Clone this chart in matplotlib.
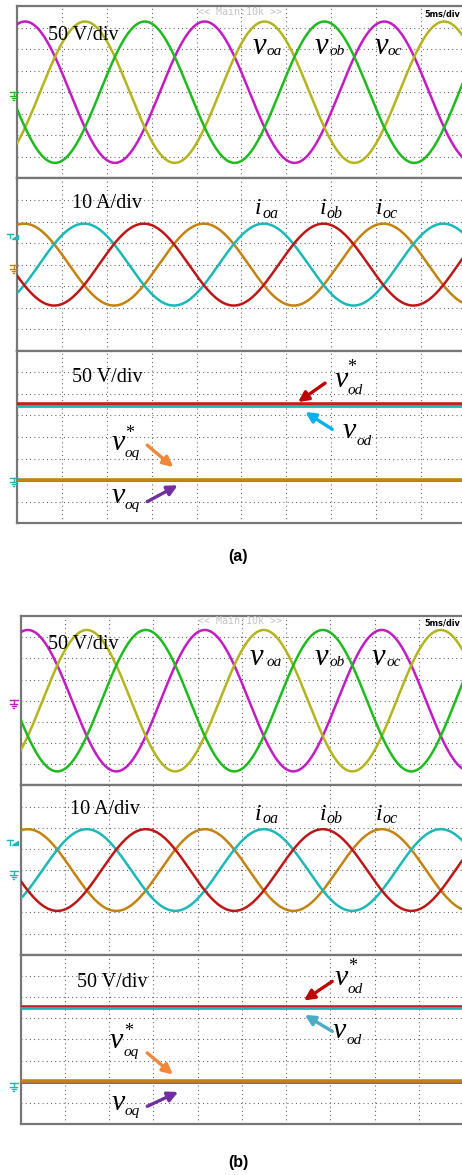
import matplotlib.pyplot as plt
import numpy as np
from matplotlib.lines import Line2D
from matplotlib.patches import Polygon

W, H, DPI = 462, 1175, 100

# scope settings
MS_PER_DIV = 5
N_XDIV, N_YDIV = 10, 8
FREQ_HZ = 50
VOLT_LIM = (-200, 200)     # 50 V/div, ground at centre
CURR_LIM = (-40, 40)       # 10 A/div, ground at centre
DQ_LIM = (-100, 300)       # 50 V/div, ground 2 div above bottom

# peak delay of each trace inside a three-phase set (ms)
PHASE_DELAY_MS = [0.0, 20 / 3, 40 / 3]

# (a)
A_VOLT_PEAK = 164
A_VOLT_T0 = 0.9
A_CURR_PEAK = 19.0
A_CURR_T0 = 0.8
A_DQ = [176, 173, 1, 0]          # v_od*, v_od, v_oq*, v_oq

# (b)
B_VOLT_PEAK = 167
B_VOLT_T0 = 0.8
B_CURR_PEAK = 19.3
B_CURR_T0 = 0.8
B_DQ = [176, 174, 1, 0]

VOLT_COLORS = ["#c21cc2", "#b4b41e", "#1eba1e"]
CURR_COLORS = ["#c4820f", "#1cb8b8", "#bd1717"]
DQ_COLORS = ["#c81e1e", "#1cb8b8", "#c4820f", "#8a3ec0"]

plt.rcParams["font.family"] = ["Liberation Serif", "DejaVu Serif"]

fig = plt.figure(figsize=(W / DPI, H / DPI), dpi=DPI)
fig.patch.set_facecolor("white")


def px(x, y):
    return x / W, 1 - y / H


def scope_axes(left, top, dw, dh, ylims):
    axes = []
    for k, lim in enumerate(ylims):
        y0 = top + k * N_YDIV * dh
        ax = fig.add_axes([left / W, 1 - (y0 + N_YDIV * dh) / H,
                           N_XDIV * dw / W, N_YDIV * dh / H])
        ax.set_xlim(0, N_XDIV * MS_PER_DIV)
        ax.set_ylim(*lim)
        ax.set_xticks(np.arange(0, N_XDIV * MS_PER_DIV + 0.1, MS_PER_DIV))
        ax.set_yticks(np.linspace(lim[0], lim[1], N_YDIV + 1))
        ax.tick_params(length=0, labelbottom=False, labelleft=False)
        ax.grid(True, color="#4a4a4a", linestyle=(0, (0.8, 3.0)), lw=0.8)
        ax.set_axisbelow(True)
        for side, sp in ax.spines.items():
            sp.set_color("#777777")
            sp.set_linewidth(1.6)
        ax.spines["right"].set_visible(False)
        axes.append(ax)
    return axes


def three_phase(ax, peak, t0, colors):
    t = np.linspace(0, N_XDIV * MS_PER_DIV, 2001)
    for delay, c in zip(PHASE_DELAY_MS, colors):
        y = peak * np.cos(2 * np.pi * FREQ_HZ * (t - t0 - delay) / 1000)
        ax.plot(t, y, color=c, lw=1.8, zorder=3)


def dq_lines(ax, levels):
    # red under cyan, purple under orange
    ax.axhline(levels[0], color=DQ_COLORS[0], lw=2.6, zorder=3)
    ax.axhline(levels[1], color=DQ_COLORS[1], lw=2.0, zorder=4)
    ax.axhline(levels[3], color=DQ_COLORS[3], lw=2.0, zorder=3)
    ax.axhline(levels[2], color=DQ_COLORS[2], lw=2.6, zorder=4)


def arrow(ax, head, tail, color):
    ax.annotate("", xy=head, xytext=tail, annotation_clip=False,
                arrowprops=dict(arrowstyle="-|>", color=color, lw=2.4,
                                mutation_scale=15, shrinkA=0, shrinkB=0))


def sym(x, y, main, size, sub, sx, sy, sub_size, star=None):
    kw = dict(style="italic", color="black", ha="left", va="baseline")
    fig.text(*px(x, y), main, fontsize=size, **kw)
    fig.text(*px(sx, sy), sub, fontsize=sub_size, **kw)
    if star:
        fig.text(*px(*star), "*", fontsize=13, ha="center", va="center")


def ground(y, color, x=13.5):
    segs = [((x - 4, y), (x + 4, y)), ((x, y), (x, y + 4)),
            ((x - 3.5, y + 4.3), (x + 3.5, y + 4.3)),
            ((x - 2, y + 6.3), (x + 2, y + 6.3)),
            ((x - 0.8, y + 8.2), (x + 0.8, y + 8.2))]
    for a, b in segs:
        xs, ys = zip(px(*a), px(*b))
        fig.add_artist(Line2D(xs, ys, color=color, lw=1.0))


def trigger(y, color):
    for a, b in [((7.5, y), (13, y)), ((10.25, y), (10.25, y + 5))]:
        xs, ys = zip(px(*a), px(*b))
        fig.add_artist(Line2D(xs, ys, color=color, lw=1.0))
    fig.add_artist(Polygon([px(12, y + 5.5), px(18, y + 5.5), px(18, y + 1.5)],
                           closed=True, color=color, transform=fig.transFigure))


def header(y):
    fig.text(*px(240, y), "<< Main:10k >>", fontsize=7.2, color="#c4c4c4",
             family="DejaVu Sans Mono", ha="center", va="center")
    fig.text(*px(424, y + 2), "5ms/div", fontsize=5.9, color="black",
             family="DejaVu Sans", weight="bold", ha="left", va="center")


def div_text(x, y, s):
    fig.text(*px(x, y), s, fontsize=14.5, ha="left", va="baseline")


# ---------------- panel (a) ----------------
a1, a2, a3 = scope_axes(17, 6, 44.9, 21.55, [VOLT_LIM, CURR_LIM, DQ_LIM])
three_phase(a1, A_VOLT_PEAK, A_VOLT_T0, VOLT_COLORS)
three_phase(a2, A_CURR_PEAK, A_CURR_T0, CURR_COLORS)
dq_lines(a3, A_DQ)
header(12)

div_text(48, 39.5, "50 V/div")
sym(253, 54, "v", 22, "oa", 267, 55, 11)
sym(315, 54, "v", 22, "ob", 330, 55, 11)
sym(375, 54, "v", 22, "oc", 388, 55, 11)

div_text(72, 208.5, "10 A/div")
sym(255, 214.5, "i", 17, "oa", 263, 218.5, 11.5)
sym(320, 214.5, "i", 17, "ob", 327, 218.5, 11.5)
sym(376, 214.5, "i", 17, "oc", 383, 218.5, 11.5)

div_text(72, 382, "50 V/div")
sym(335, 387, "v", 21.5, "od", 348, 394, 11, star=(352, 367))
sym(343, 438.5, "v", 21.5, "od", 357, 445, 11)
sym(112, 450, "v", 21.5, "oq", 125, 457, 11, star=(130, 433))
sym(112, 503.5, "v", 21.5, "oq", 125, 509, 11)

arrow(a3, (31.3, 181), (34.3, 225), "#c00000")
arrow(a3, (32.1, 158), (35.1, 118), "#00b0f0")
arrow(a3, (17.4, 30), (14.5, 81), "#f0883c")
arrow(a3, (17.9, -12), (14.5, -50), "#7030a0")

ground(92, VOLT_COLORS[2])
trigger(233.5, CURR_COLORS[1])
ground(264.5, CURR_COLORS[0])
ground(478, CURR_COLORS[1])

fig.text(*px(238, 557), "(a)", family="Liberation Sans", weight="bold",
         fontsize=11.5, ha="center", va="center")

# ---------------- panel (b) ----------------
b1, b2, b3 = scope_axes(20.7, 616, 44.25, 21.17, [VOLT_LIM, CURR_LIM, DQ_LIM])
three_phase(b1, B_VOLT_PEAK, B_VOLT_T0, VOLT_COLORS)
three_phase(b2, B_CURR_PEAK, B_CURR_T0, CURR_COLORS)
dq_lines(b3, B_DQ)
header(621)

div_text(48, 649, "50 V/div")
sym(250, 665, "v", 22, "oa", 267, 666.5, 11)
sym(315, 665, "v", 22, "ob", 330, 666.5, 11)
sym(372, 665, "v", 22, "oc", 387, 666.5, 11)

div_text(70, 813.5, "10 A/div")
sym(255, 819.5, "i", 17, "oa", 263, 823, 11.5)
sym(320, 819.5, "i", 17, "ob", 327, 823, 11.5)
sym(376, 819.5, "i", 17, "oc", 383, 823, 11.5)

div_text(77, 987, "50 V/div")
sym(335, 985, "v", 21.5, "od", 348, 993, 11, star=(352.5, 966.5))
sym(333, 1037.5, "v", 21.5, "od", 347, 1043.5, 11)
sym(110, 1048.5, "v", 21.5, "oq", 124, 1056, 11, star=(128.5, 1031.5))
sym(112, 1109.5, "v", 21.5, "oq", 125, 1115, 11)

arrow(b3, (32.0, 192), (35.2, 237), "#c00000")
arrow(b3, (32.1, 158), (35.2, 119), "#4bacc6")
arrow(b3, (17.2, 17), (14.3, 68), "#f0883c")
arrow(b3, (17.8, -24), (14.3, -58), "#7030a0")

ground(700, VOLT_COLORS[0])
trigger(839.5, CURR_COLORS[1])
ground(870.5, CURR_COLORS[1])
ground(1083, CURR_COLORS[1])

fig.text(*px(238, 1163), "(b)", family="Liberation Sans", weight="bold",
         fontsize=11.5, ha="center", va="center")

fig.savefig("out.png", dpi=DPI, facecolor="white")
